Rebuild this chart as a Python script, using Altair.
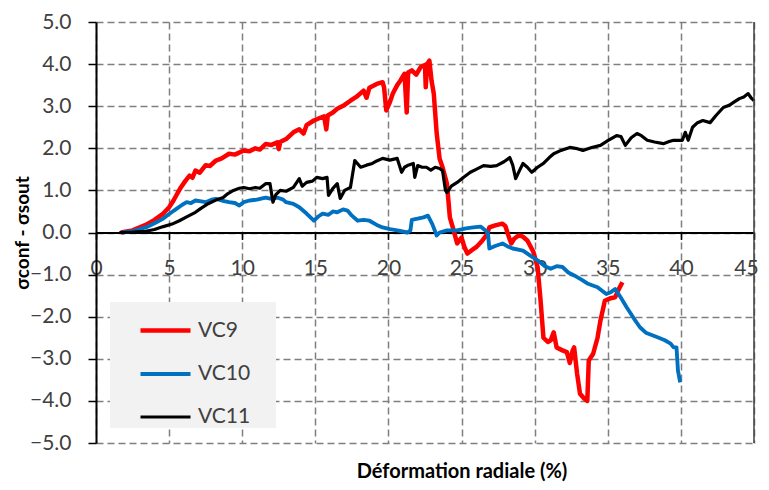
import altair as alt
import pandas as pd

series_names = ["VC9", "VC10", "VC11"]
series_colors = ["#ff0000", "#0070c0", "#000000"]
series_widths = [4.5, 3.2, 3.4]

vc9_x = [1.7, 2.5, 3.4, 4.0, 4.6, 5.0, 5.3, 5.6, 5.8, 6.1, 6.4, 6.6, 6.8, 7.1, 7.5, 7.8, 8.2, 8.6, 9.1, 9.5,
         10.1, 10.5, 10.9, 11.2, 11.6, 12.0, 12.4, 12.5, 12.6, 13.0, 13.5, 13.9, 14.2, 14.4, 14.9, 15.3, 15.6, 15.75, 15.85, 16.2,
         16.5, 17.0, 17.4, 17.8, 18.3, 18.5, 18.7, 19.2, 19.6, 19.7, 19.85, 20.1, 20.3, 20.6, 20.8, 21.1, 21.25, 21.35, 21.6, 21.9,
         22.2, 22.5, 22.55, 22.65, 22.8, 22.95, 23.1, 23.3, 23.5, 23.7, 24.0, 24.1, 24.2, 24.4, 24.7, 25.0, 25.2, 25.4, 25.7, 26.0,
         26.4, 26.7, 26.9, 27.3, 27.8, 28.0, 28.2, 28.4, 28.6, 28.9, 29.2, 29.5, 29.9, 30.2, 30.4, 30.6, 30.9, 31.1, 31.3, 31.5,
         31.9, 32.2, 32.4, 32.6, 32.7, 32.9, 33.1, 33.4, 33.6, 33.7, 34.0, 34.3, 34.5, 34.8, 35.2, 35.5, 35.7, 36.0]
vc9_y = [0.0, 0.05, 0.18, 0.3, 0.45, 0.6, 0.76, 0.95, 1.07, 1.22, 1.35, 1.3, 1.47, 1.42, 1.6, 1.58, 1.71, 1.76, 1.87, 1.85,
         1.95, 1.93, 2.0, 1.97, 2.1, 2.08, 2.14, 1.98, 2.15, 2.22, 2.38, 2.45, 2.35, 2.55, 2.66, 2.72, 2.76, 2.45, 2.78, 2.85,
         2.94, 3.03, 3.13, 3.22, 3.37, 3.2, 3.44, 3.53, 3.57, 3.45, 2.9, 3.1, 3.3, 3.5, 3.6, 3.77, 2.85, 3.8, 3.85, 3.75,
         3.93, 3.98, 3.45, 4.0, 4.08, 3.6, 3.3, 2.35, 1.75, 1.55, 1.16, 0.76, 0.36, 0.12, -0.26, -0.12, -0.35, -0.5, -0.42, -0.35,
         -0.2, -0.07, 0.12, 0.17, 0.21, 0.15, -0.07, -0.26, -0.15, -0.07, -0.1, -0.19, -0.45, -0.82, -1.6, -2.5, -2.6, -2.56, -2.37, -2.73,
         -2.8, -2.84, -3.1, -2.8, -2.73, -3.35, -3.83, -3.95, -4.0, -3.04, -2.88, -2.5, -2.09, -1.62, -1.56, -1.54, -1.38, -1.18]

vc10_x = [1.8, 2.6, 3.4, 4.0, 4.6, 5.0, 5.5, 5.9, 6.2, 6.5, 6.8, 7.2, 7.5, 7.9, 8.2, 8.6, 9.1, 9.5, 9.8, 10.1,
          10.5, 11.0, 11.6, 12.0, 12.4, 12.8, 13.0, 13.5, 13.9, 14.4, 14.9, 15.2, 15.5, 15.9, 16.2, 16.5, 16.9, 17.2, 17.5, 17.9,
          18.3, 18.7, 19.2, 19.6, 20.1, 20.6, 21.3, 21.5, 21.6, 22.0, 22.4, 22.7, 23.0, 23.3, 23.5, 24.0, 24.7, 25.3, 25.8, 26.3,
          26.8, 26.9, 27.3, 27.8, 28.2, 28.5, 29.2, 29.7, 30.2, 30.7, 31.1, 31.5, 31.9, 32.3, 32.7, 33.2, 33.6, 34.3, 34.9, 35.2,
          35.5, 35.9, 36.3, 36.8, 37.2, 37.6, 38.4, 38.9, 39.3, 39.5, 39.7, 39.8, 39.95]
vc10_y = [0.0, 0.04, 0.12, 0.22, 0.33, 0.44, 0.56, 0.66, 0.72, 0.7, 0.76, 0.74, 0.72, 0.78, 0.8, 0.76, 0.72, 0.7, 0.64, 0.72,
          0.76, 0.78, 0.83, 0.8, 0.83, 0.78, 0.72, 0.68, 0.6, 0.45, 0.28, 0.38, 0.45, 0.42, 0.5, 0.48, 0.55, 0.52, 0.4, 0.28,
          0.3, 0.28, 0.18, 0.12, 0.08, 0.05, 0.0, 0.05, 0.3, 0.33, 0.36, 0.4, 0.2, -0.07, 0.0, 0.05, 0.05, 0.1, 0.12, 0.14,
          0.0, -0.38, -0.32, -0.26, -0.34, -0.38, -0.43, -0.55, -0.66, -0.8, -0.86, -0.8, -0.82, -0.95, -1.02, -1.12, -1.21, -1.3, -1.46, -1.42,
          -1.34, -1.55, -1.78, -2.05, -2.25, -2.38, -2.49, -2.56, -2.64, -2.73, -2.73, -3.28, -3.56]

vc11_x = [1.6, 2.5, 3.4, 4.0, 4.6, 5.2, 5.7, 6.2, 6.8, 7.2, 7.7, 8.2, 8.7, 9.0, 9.4, 9.8, 10.1, 10.5, 10.9, 11.2,
          11.6, 11.9, 12.1, 12.3, 12.6, 13.0, 13.5, 13.9, 14.1, 14.4, 14.8, 15.1, 15.5, 15.8, 15.9, 16.2, 16.5, 16.7, 17.0, 17.4,
          17.7, 18.1, 18.5, 18.9, 19.2, 19.6, 20.1, 20.6, 20.9, 21.1, 21.3, 21.7, 21.8, 22.0, 22.3, 22.6, 22.9, 23.2, 23.5, 23.7,
          23.9, 24.0, 24.3, 24.7, 25.1, 25.6, 26.0, 26.5, 27.0, 27.4, 27.9, 28.3, 28.5, 28.7, 29.0, 29.2, 29.5, 29.8, 30.2, 30.6,
          31.0, 31.3, 31.8, 32.4, 32.8, 33.3, 33.9, 34.5, 35.0, 35.6, 35.9, 36.2, 36.6, 37.0, 37.3, 37.7, 38.2, 38.8, 39.2, 39.5,
          40.1, 40.3, 40.5, 40.8, 41.1, 41.5, 42.0, 42.4, 42.9, 43.3, 43.6, 44.0, 44.3, 44.6, 44.8, 45.0]
vc11_y = [0.0, 0.01, 0.03, 0.07, 0.14, 0.2, 0.28, 0.37, 0.48, 0.58, 0.69, 0.77, 0.83, 0.92, 1.0, 1.05, 1.07, 1.04, 1.07, 1.05,
          1.16, 1.16, 0.72, 0.9, 1.0, 0.98, 1.07, 1.28, 1.1, 1.19, 1.22, 1.31, 1.28, 1.31, 0.88, 1.05, 1.16, 0.81, 1.0, 1.07,
          1.71, 1.55, 1.6, 1.64, 1.7, 1.76, 1.72, 1.76, 1.43, 1.55, 1.59, 1.64, 1.31, 1.59, 1.55, 1.55, 1.48, 1.55, 1.52, 1.47,
          1.0, 0.95, 1.1, 1.19, 1.3, 1.43, 1.5, 1.59, 1.57, 1.59, 1.68, 1.78, 1.6, 1.28, 1.5, 1.64, 1.55, 1.43, 1.55, 1.64,
          1.78, 1.87, 1.95, 2.02, 2.0, 1.95, 2.02, 2.07, 2.18, 2.3, 2.28, 2.07, 2.25, 2.35, 2.3, 2.19, 2.15, 2.11, 2.16, 2.19,
          2.19, 2.38, 2.19, 2.5, 2.6, 2.66, 2.61, 2.78, 2.97, 3.02, 3.09, 3.18, 3.22, 3.3, 3.2, 3.13]

x_ticks = list(range(0, 46, 5))
y_ticks = [-5, -4, -3, -2, -1, 0, 1, 2, 3, 4, 5]

rows = []
for name, xs, ys in [("VC9", vc9_x, vc9_y), ("VC10", vc10_x, vc10_y), ("VC11", vc11_x, vc11_y)]:
    for i, (a, b) in enumerate(zip(xs, ys)):
        rows.append({"serie": name, "x": a, "y": b, "i": i})
df = pd.DataFrame(rows)

FONT = "Lato"
W, H = 658, 421
GRID = dict(grid=True, gridDash=[7, 4], gridColor="#7f7f7f", gridWidth=1.5)

x_scale = alt.Scale(domain=[0, 45], nice=False, zero=False)
y_scale = alt.Scale(domain=[-5, 5], nice=False)

lines = alt.Chart(df).mark_line(strokeJoin="round").encode(
    x=alt.X("x:Q", scale=x_scale, axis=alt.Axis(
        values=x_ticks, title=None, offset=-H / 2, labelFlush=False,
        labelOffset={"condition": {"test": "datum.value == 45", "value": -8}, "value": 0},
        domainColor="#000000", domainWidth=2, tickColor="#000000", tickWidth=1.5, tickSize=7,
        labelPadding=18, labelFontSize=21, labelColor="#404040", labelFont=FONT, **GRID)),
    y=alt.Y("y:Q", scale=y_scale, axis=alt.Axis(
        values=y_ticks, format=".1f", title="σconf - σsout",
        titleFont=FONT, titleFontSize=19, titleFontWeight="bold", titleColor="#000000",
        titleX=-74, titleY=H / 2, titleAngle=270, titleAlign="center", titleBaseline="middle",
        domainColor="#000000", domainWidth=2, tickColor="#000000", tickWidth=1.5, tickSize=8,
        labelPadding=17, labelFontSize=21, labelColor="#404040", labelFont=FONT, **GRID)),
    color=alt.Color("serie:N", scale=alt.Scale(domain=series_names, range=series_colors),
                    sort=series_names,
                    legend=alt.Legend(title="WW", titleOrient="right", titleOpacity=0, titleFontSize=13,
                                      titlePadding=0,
                                      orient="none", legendX=14, legendY=280,
                                      fillColor="#f2f2f2", padding=1, symbolOffset=27,
                                      symbolType="stroke", symbolSize=2500, symbolStrokeWidth=4,
                                      labelFont=FONT, labelFontSize=21, labelColor="#404040",
                                      labelOffset=5, rowPadding=6)),
    strokeWidth=alt.StrokeWidth("serie:N", scale=alt.Scale(domain=series_names, range=series_widths),
                                legend=None),
    order="i:Q",
)

border = alt.Chart(pd.DataFrame({"x": [45]})).mark_rule(color="#404040", strokeWidth=1.5).encode(
    x=alt.X("x:Q", scale=x_scale)
)

chart = alt.layer(lines, border).properties(
    width=W, height=H,
    title=alt.TitleParams("Déformation radiale (%)", orient="bottom", anchor="middle",
                          font=FONT, fontSize=20, fontWeight="bold", color="#000000", dx=37, offset=9),
    autosize=alt.AutoSizeParams(type="none"),
    padding={"left": 88, "top": 14, "right": 7, "bottom": 39},
).configure_view(stroke=None)

chart.save("out.html", embed_options={"renderer": "svg", "actions": False})
